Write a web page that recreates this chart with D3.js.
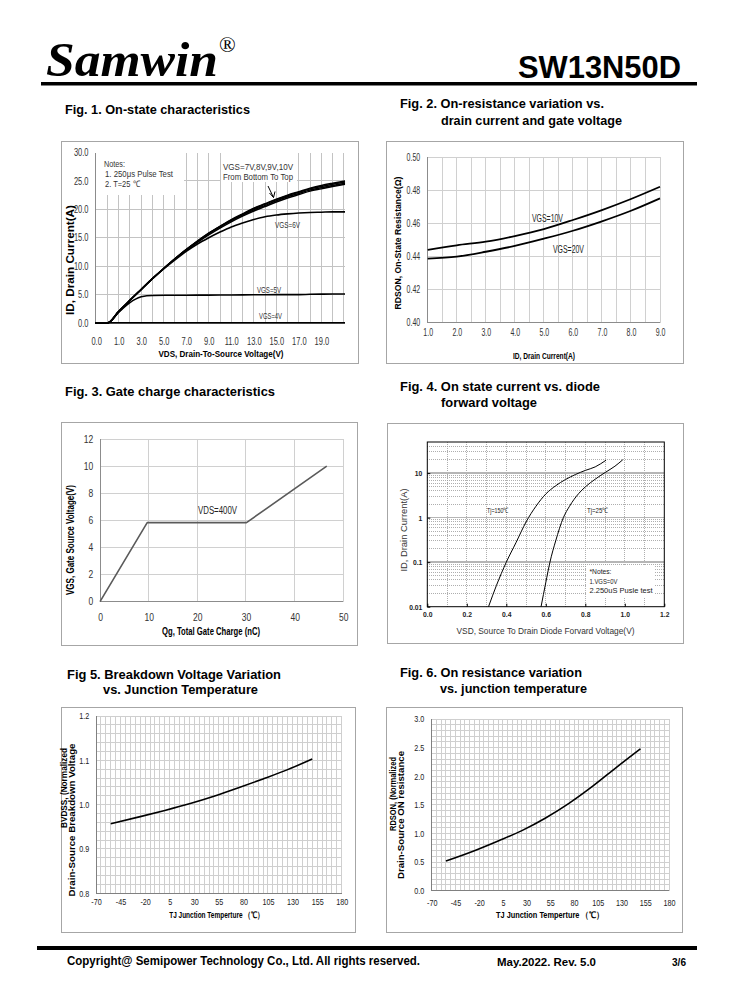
<!DOCTYPE html>
<html>
<head>
<meta charset="utf-8">
<script src="https://cdn.jsdelivr.net/npm/d3@7"></script>
<style>
body { margin: 0; background: #fff; }
svg { display: block; }
</style>
</head>
<body>
<svg id="page" width="738" height="1000"></svg>
<script>
var SANS = "'Liberation Sans', Arial, sans-serif";
var SERIF = "'Liberation Serif', 'Times New Roman', serif";

// Fig. 1 - on-state characteristics, VDS (V) vs ID (A)
var fig1Vds = [-1.1, 0, 1, 2, 3, 4, 5, 6, 7, 8, 9, 10, 11, 12, 13, 14, 15, 16, 17, 18, 19, 20, 21.1];
var fig1Id10 = [0, 0, 2.0, 4.0, 5.9, 7.8, 9.6, 11.3, 12.9, 14.4, 15.8, 17.0, 18.2, 19.2, 20.2, 21.0, 21.8, 22.5, 23.1, 23.7, 24.2, 24.6, 25.0];
var fig1Id9 = [0, 0, 2.0, 4.0, 5.9, 7.8, 9.6, 11.3, 12.9, 14.4, 15.8, 17.0, 18.1, 19.1, 20.1, 20.9, 21.7, 22.4, 23.0, 23.6, 24.0, 24.4, 24.8];
var fig1Id8 = [0, 0, 2.0, 4.0, 5.9, 7.8, 9.6, 11.3, 12.9, 14.3, 15.7, 16.9, 18.0, 19.0, 19.9, 20.7, 21.5, 22.2, 22.8, 23.4, 23.8, 24.2, 24.6];
var fig1Id7 = [0, 0, 2.0, 4.0, 5.9, 7.8, 9.6, 11.3, 12.8, 14.2, 15.5, 16.7, 17.8, 18.8, 19.7, 20.5, 21.3, 22.0, 22.6, 23.2, 23.6, 24.0, 24.4];
var fig1Id6 = [0, 0, 2.0, 4.0, 5.9, 7.8, 9.5, 11.1, 12.6, 13.9, 15.0, 16.0, 16.9, 17.6, 18.2, 18.7, 19.0, 19.2, 19.35, 19.45, 19.5, 19.55, 19.55];
var fig1Vds5 = [-1.1, 0, 1, 1.5, 2, 2.5, 3, 3.5, 4, 6, 8, 10, 12, 14, 16, 17, 18, 19, 20, 21.1];
var fig1Id5 = [0, 0, 1.9, 2.8, 3.6, 4.2, 4.6, 4.8, 4.85, 4.88, 4.9, 4.92, 4.95, 4.98, 5.0, 5.0, 5.05, 5.08, 5.1, 5.1];
var fig1Vds4 = [-1.1, 21.1];
var fig1Id4 = [0.05, 0.05];
var fig1XTicks = [-1, 1, 3, 5, 7, 9, 11, 13, 15, 17, 19];
var fig1XLabels = ["0.0", "1.0", "3.0", "5.0", "7.0", "9.0", "11.0", "13.0", "15.0", "17.0", "19.0"];
var fig1YTicks = [0, 5, 10, 15, 20, 25, 30];

// Fig. 2 - RDS(on) vs ID
var fig2Id = [1, 2, 3, 4, 5, 6, 7, 8, 9];
var fig2Rds10 = [0.4440, 0.4468, 0.4490, 0.4524, 0.4566, 0.4621, 0.4681, 0.4748, 0.4822];
var fig2Rds20 = [0.4388, 0.4400, 0.4429, 0.4464, 0.4508, 0.4556, 0.4613, 0.4677, 0.4752];
var fig2XTicks = [1, 2, 3, 4, 5, 6, 7, 8, 9];
var fig2YTicks = [0.40, 0.42, 0.44, 0.46, 0.48, 0.50];

// Fig. 3 - gate charge
var fig3Qg = [0, 9.7, 30.1, 46.6];
var fig3Vgs = [0, 5.83, 5.83, 10.0];
var fig3XTicks = [0, 10, 20, 30, 40, 50];
var fig3YTicks = [0, 2, 4, 6, 8, 10, 12];

// Fig. 4 - body diode forward voltage
var fig4Vsd150 = [0.31, 0.35, 0.40, 0.45, 0.50, 0.55, 0.60, 0.65, 0.70, 0.75, 0.80, 0.85, 0.905];
var fig4Id150 = [0.01, 0.03, 0.1, 0.28, 0.8, 1.8, 3.4, 5.2, 7.2, 9.3, 11.5, 13.8, 19.5];
var fig4Vsd25 = [0.576, 0.60, 0.621, 0.65, 0.689, 0.72, 0.767, 0.80, 0.85, 0.90, 0.95, 0.99];
var fig4Id25 = [0.01, 0.035, 0.1, 0.3, 1, 1.8, 3.5, 4.9, 7.3, 10.3, 14.3, 20];
var fig4XTicks = [0, 0.2, 0.4, 0.6, 0.8, 1.0, 1.2];
var fig4YTicks = [0.01, 0.1, 1, 10];
var fig4YLabels = ["0.01", "0.1", "1", "10"];

// Fig. 5 / Fig. 6 - normalized vs junction temperature
var tempTj = [-55, -25, 0, 25, 50, 75, 100, 125, 150];
var fig5Bv = [0.957, 0.973, 0.987, 1.002, 1.019, 1.038, 1.058, 1.079, 1.103];
var fig6Rds = [0.52, 0.70, 0.87, 1.05, 1.27, 1.53, 1.83, 2.16, 2.48];
var tempXTicks = [-70, -45, -20, 5, 30, 55, 80, 105, 130, 155, 180];
var fig5YTicks = [0.8, 0.9, 1.0, 1.1, 1.2];
var fig6YTicks = [0, 0.5, 1.0, 1.5, 2.0, 2.5, 3.0];

var svg = d3.select("#page");

function label(x, y, str, size, o) {
    o = o || {};
    var t = svg.append("text")
        .attr("x", x)
        .attr("y", y)
        .attr("font-size", size)
        .attr("font-family", o.font || SANS)
        .attr("font-weight", o.bold ? "bold" : "normal")
        .attr("font-style", o.italic ? "italic" : null)
        .attr("text-anchor", o.anchor || "start")
        .attr("fill", o.fill || "#000")
        .text(str);
    if (o.w) {
        t.attr("textLength", o.w).attr("lengthAdjust", "spacingAndGlyphs");
    }
    if (o.rotate) {
        t.attr("transform", "rotate(-90," + x + "," + y + ")");
    }
    return t;
}

// rotated axis title, (cx, cy) is the centre of the glyphs
function vTitle(cx, cy, str, size, o) {
    o = o || {};
    o.anchor = "middle";
    o.rotate = true;
    return label(cx + size * 0.36, cy, str, size, o);
}

function frame(b, color) {
    svg.append("rect")
        .attr("x", b[0] + 0.5)
        .attr("y", b[1] + 0.5)
        .attr("width", b[2] - b[0])
        .attr("height", b[3] - b[1])
        .attr("fill", "none")
        .attr("stroke", color || "#a6a6a6");
}

function grid(x, y, xs, ys, stroke, dash, sw) {
    var g = svg.append("g")
        .attr("stroke", stroke)
        .attr("stroke-width", sw || 1)
        .attr("stroke-dasharray", dash || null)
        .attr("shape-rendering", "crispEdges");
    var yr = y.range(), xr = x.range();
    g.selectAll(null).data(xs).enter().append("line")
        .attr("x1", function (d) { return x(d); })
        .attr("x2", function (d) { return x(d); })
        .attr("y1", yr[0])
        .attr("y2", yr[yr.length - 1]);
    g.selectAll(null).data(ys).enter().append("line")
        .attr("y1", function (d) { return y(d); })
        .attr("y2", function (d) { return y(d); })
        .attr("x1", xr[0])
        .attr("x2", xr[xr.length - 1]);
}

function axisLines(x, y, color) {
    var xr = x.range(), yr = y.range();
    svg.append("path")
        .attr("d", "M" + xr[0] + "," + yr[1] + "V" + yr[0] + "H" + xr[1])
        .attr("fill", "none")
        .attr("stroke", color || "#868686")
        .attr("shape-rendering", "crispEdges");
}

// squeeze text horizontally (no narrow face is installed)
function squeeze(sel, f) {
    sel.each(function () {
        var w = this.getComputedTextLength();
        d3.select(this).attr("textLength", w * f).attr("lengthAdjust", "spacingAndGlyphs");
    });
}

function styleAxis(g, size, o) {
    o = o || {};
    g.select(".domain").remove();
    g.selectAll("line").attr("stroke", o.tick || "none");
    var t = g.selectAll("text")
        .attr("font-size", size)
        .attr("font-family", SANS)
        .attr("font-weight", o.bold ? "bold" : "normal")
        .attr("fill", o.fill || "#333");
    if (o.sq) { squeeze(t, o.sq); }
}

function bottomAxis(x, y, ticks, fmt, pad, size, o) {
    var g = svg.append("g")
        .attr("transform", "translate(0," + y.range()[0] + ")")
        .call(d3.axisBottom(x).tickValues(ticks).tickFormat(fmt).tickSize(0).tickPadding(pad));
    styleAxis(g, size, o);
}

function leftAxis(x, y, ticks, fmt, pad, size, o) {
    var g = svg.append("g")
        .attr("transform", "translate(" + x.range()[0] + ",0)")
        .call(d3.axisLeft(y).tickValues(ticks).tickFormat(fmt).tickSize(0).tickPadding(pad));
    styleAxis(g, size, o);
}

function curve(x, y, xs, ys, stroke, sw, smooth) {
    var pts = xs.map(function (d, i) { return [d, ys[i]]; });
    svg.append("path")
        .datum(pts)
        .attr("fill", "none")
        .attr("stroke", stroke)
        .attr("stroke-width", sw)
        .attr("stroke-linejoin", "round")
        .attr("d", d3.line()
            .x(function (d) { return x(d[0]); })
            .y(function (d) { return y(d[1]); })
            .curve(smooth ? d3.curveMonotoneX : d3.curveLinear));
}

function whiteBox(x, y, w, h) {
    svg.append("rect").attr("x", x).attr("y", y).attr("width", w).attr("height", h).attr("fill", "#fff");
}

function plain(d) { return String(d); }

// ---------- page header / footer ----------
label(46, 76, "Samwin", 48, {font: SERIF, bold: true, italic: true, w: 172});
label(219, 52, "®", 22, {font: SERIF});
label(681, 78, "SW13N50D", 31, {bold: true, anchor: "end", w: 163});
svg.append("rect").attr("x", 41).attr("y", 82).attr("width", 656).attr("height", 3.5).attr("fill", "#000");

svg.append("rect").attr("x", 37).attr("y", 946).attr("width", 660).attr("height", 4).attr("fill", "#000");
label(67, 964.5, "Copyright@ Semipower Technology Co., Ltd. All rights reserved.", 12.5, {bold: true, w: 353});
label(497, 966, "May.2022. Rev. 5.0", 11, {bold: true, w: 99});
label(672, 966, "3/6", 11, {bold: true, w: 14});

// ---------- figure titles ----------
label(65, 113.5, "Fig. 1. On-state characteristics", 12.5, {bold: true, w: 185});
label(400, 108, "Fig. 2. On-resistance variation vs.", 12.5, {bold: true, w: 204});
label(441, 124.5, "drain current and gate voltage", 12.5, {bold: true, w: 181});
label(65, 395.5, "Fig. 3. Gate charge characteristics", 12.5, {bold: true, w: 210});
label(400, 390.5, "Fig. 4. On state current vs. diode", 12.5, {bold: true, w: 200});
label(441, 406.5, "forward voltage", 12.5, {bold: true, w: 96});
label(67, 678.5, "Fig 5. Breakdown Voltage Variation", 12.5, {bold: true, w: 214});
label(103, 693.5, "vs. Junction Temperature", 12.5, {bold: true, w: 155});
label(400, 676.5, "Fig. 6. On resistance variation", 12.5, {bold: true, w: 182});
label(440, 692.5, "vs. junction temperature", 12.5, {bold: true, w: 147});

// ---------- Fig. 1 ----------
(function () {
    var x = d3.scaleLinear().domain([-1.1, 21.1]).range([95, 345]);
    var y = d3.scaleLinear().domain([0, 30]).range([323, 152.5]);
    frame([61, 141, 358, 363]);
    grid(x, y, d3.range(0, 22), fig1YTicks.slice(1, 6), "#c3c3c3");
    whiteBox(96, 152, 88, 43);
    whiteBox(221, 152, 76, 30);
    axisLines(x, y, "#8c8c8c");
    bottomAxis(x, y, fig1XTicks, function (d, i) { return fig1XLabels[i]; }, 15, 10, {fill: "#333", sq: 0.75});
    leftAxis(x, y, fig1YTicks, function (d) { return d.toFixed(1); }, 6.5, 10, {fill: "#333", sq: 0.75});

    curve(x, y, fig1Vds4, fig1Id4, "#000", 1.6, false);
    curve(x, y, fig1Vds5, fig1Id5, "#000", 1.6, true);
    curve(x, y, fig1Vds, fig1Id6, "#000", 1.6, true);
    curve(x, y, fig1Vds, fig1Id7, "#000", 1.5, true);
    curve(x, y, fig1Vds, fig1Id8, "#000", 1.5, true);
    curve(x, y, fig1Vds, fig1Id9, "#000", 1.5, true);
    curve(x, y, fig1Vds, fig1Id10, "#000", 1.5, true);

    label(104, 167, "Notes:", 9, {fill: "#333", w: 21});
    label(105, 177, "1. 250\u03bcs  Pulse Test", 9, {fill: "#333", w: 68});
    label(105, 186.5, "2. T=25 \u2103", 9, {fill: "#333", w: 35});
    label(223, 170, "VGS=7V,8V,9V,10V", 9, {fill: "#333", w: 70});
    label(223, 180, "From Bottom To Top", 9, {fill: "#333", w: 70});
    label(275, 227.5, "VGS=6V", 9, {fill: "#333", w: 25});
    label(257, 293, "VGS=5V", 9, {fill: "#333", w: 24});
    label(259, 319, "VGS=4V", 9, {fill: "#333", w: 23});
    svg.append("path")
        .attr("d", "M268,186L273.5,197.5M269.5,193L273.5,197.5L275,191.5")
        .attr("fill", "none").attr("stroke", "#000").attr("stroke-width", 1);

    label(221, 356.5, "VDS,  Drain-To-Source Voltage(V)", 9.5, {bold: true, anchor: "middle", w: 125});
    vTitle(70, 260, "ID, Drain Current(A)", 10, {bold: true, w: 110});
})();

// ---------- Fig. 2 ----------
(function () {
    var x = d3.scaleLinear().domain([1, 9]).range([427.7, 660]);
    var y = d3.scaleLinear().domain([0.40, 0.50]).range([322.7, 157.3]);
    frame([386, 141, 683, 363]);
    grid(x, y, d3.range(3, 19).map(function (i) { return i / 2; }), fig2YTicks.slice(1), "#d0d0d0");
    axisLines(x, y, "#8c8c8c");
    bottomAxis(x, y, fig2XTicks, d3.format(".1f"), 6.5, 10, {fill: "#333", sq: 0.7});
    leftAxis(x, y, fig2YTicks, d3.format(".2f"), 7.5, 10, {fill: "#333", sq: 0.7});

    curve(x, y, fig2Id, fig2Rds10, "#000", 1.8, true);
    curve(x, y, fig2Id, fig2Rds20, "#000", 1.8, true);

    label(532, 222, "VGS=10V", 10, {fill: "#222", w: 31});
    label(553, 252.5, "VGS=20V", 10, {fill: "#222", w: 31});
    label(544, 358.5, "ID, Drain Current(A)", 9, {bold: true, anchor: "middle", w: 62});
    vTitle(398.3, 243, "RDSON, On-State Resistance(\u03a9)", 8.5, {bold: true, w: 133});
})();

// ---------- Fig. 3 ----------
(function () {
    var x = d3.scaleLinear().domain([0, 50]).range([100, 343.3]);
    var y = d3.scaleLinear().domain([0, 12]).range([601.7, 439]);
    frame([61, 422, 357, 645]);
    grid(x, y, fig3XTicks.slice(1), fig3YTicks.slice(1), "#d0d0d0");
    axisLines(x, y, "#8c8c8c");
    bottomAxis(x, y, fig3XTicks, plain, 12, 10, {fill: "#333", sq: 0.85});
    leftAxis(x, y, fig3YTicks, plain, 6.7, 10, {fill: "#333", sq: 0.85});

    curve(x, y, fig3Qg, fig3Vgs, "#5a5a5a", 1.6, false);

    label(198, 514, "VDS=400V", 10, {fill: "#222", w: 39});
    label(211, 635, "Qg, Total Gate Charge (nC)", 10, {bold: true, anchor: "middle", w: 98});
    vTitle(70, 540, "VGS,  Gate Source Voltage(V)", 10, {bold: true, w: 110});
})();

// ---------- Fig. 4 ----------
(function () {
    var x = d3.scaleLinear().domain([0, 1.2]).range([427.3, 664.3]);
    var y = d3.scaleLog().domain([0.01, 50]).range([606.7, 442]);
    var minor = [];
    frame([387, 423, 683, 643]);
    [0.01, 0.1, 1, 10].forEach(function (base) {
        d3.range(2, 10).forEach(function (k) {
            if (base * k < 50) { minor.push(base * k); }
        });
    });
    grid(x, y, d3.range(1, 12).map(function (i) { return i / 10; }), minor, "#9a9a9a", "1,1", 0.8);
    grid(x, y, [], [0.1, 1, 10], "#b5b5b5", null, 1.6);
    svg.append("rect")
        .attr("x", x(0)).attr("y", y(50))
        .attr("width", x(1.2) - x(0)).attr("height", y(0.01) - y(50))
        .attr("fill", "none").attr("stroke", "#000").attr("stroke-width", 1);
    // inward tick marks
    svg.append("g").attr("transform", "translate(0," + y(0.01) + ")")
        .call(d3.axisTop(x).tickValues(fig4XTicks).tickSize(3).tickFormat(""))
        .call(function (g) { g.select(".domain").remove(); });
    svg.append("g").attr("transform", "translate(" + x(0) + ",0)")
        .call(d3.axisRight(y).tickValues(fig4YTicks).tickSize(3).tickFormat(""))
        .call(function (g) { g.select(".domain").remove(); });
    bottomAxis(x, y, fig4XTicks, d3.format(".1f"), 4.7, 7.5, {bold: true, fill: "#222", sq: 0.9});
    leftAxis(x, y, fig4YTicks, function (d, i) { return fig4YLabels[i]; }, 5, 7.5, {bold: true, fill: "#222", sq: 0.9});

    curve(x, y, fig4Vsd150, fig4Id150, "#000", 1, true);
    curve(x, y, fig4Vsd25, fig4Id25, "#000", 1, true);

    label(487, 512.5, "Tj=150\u2103", 7.5, {fill: "#222", w: 21.5});
    label(587, 512.5, "Tj=25\u2103", 7.5, {fill: "#222", w: 21});
    whiteBox(587, 565, 68, 32);
    label(589.5, 574, "*Notes:", 7.5, {fill: "#222", w: 22});
    label(589.5, 583.5, "1.VGS=0V", 7.5, {fill: "#222", w: 28});
    label(589.5, 593, "2.250uS Pusle test", 7.5, {fill: "#222", w: 63});
    label(545.5, 633.5, "VSD, Source To Drain Diode Forvard Voltage(V)", 8.5, {fill: "#333", anchor: "middle", w: 178});
    vTitle(404.3, 530, "ID,  Drain Current(A)", 8.5, {fill: "#333", w: 83});
})();

// ---------- Fig. 5 ----------
(function () {
    var x = d3.scaleLinear().domain([-70, 180]).range([96, 341.7]);
    var y = d3.scaleLinear().domain([0.8, 1.2]).range([893.3, 716]);
    frame([61, 707, 355, 932]);
    grid(x, y, d3.range(-65, 181, 5), d3.range(41, 61).map(function (i) { return i / 50; }), "#cfcfcf");
    axisLines(x, y, "#808080");
    bottomAxis(x, y, tempXTicks, plain, 5.2, 9, {fill: "#222", sq: 0.8});
    leftAxis(x, y, fig5YTicks, d3.format(".1f"), 6.7, 9, {fill: "#222", sq: 0.8});

    curve(x, y, tempTj, fig5Bv, "#000", 1.6, true);

    label(216.7, 918, "TJ  Junction Temperture \uff08\u2103\uff09", 8.5, {bold: true, anchor: "middle", w: 95});
    vTitle(64, 788, "BVDSS, (Normalized", 8.5, {bold: true, w: 80});
    vTitle(71.7, 820, "Drain-Source Breakdown Voltage", 8.5, {bold: true, w: 153});
})();

// ---------- Fig. 6 ----------
(function () {
    var x = d3.scaleLinear().domain([-70, 180]).range([431.7, 669]);
    var y = d3.scaleLinear().domain([0, 3]).range([890.7, 719]);
    frame([386, 707, 682, 932]);
    grid(x, y, d3.range(-65, 181, 5), d3.range(1, 31).map(function (i) { return i / 10; }), "#cfcfcf");
    axisLines(x, y, "#808080");
    bottomAxis(x, y, tempXTicks, plain, 9, 9, {fill: "#222", sq: 0.8});
    leftAxis(x, y, fig6YTicks, d3.format(".1f"), 7.4, 9, {fill: "#222", sq: 0.8});

    curve(x, y, tempTj, fig6Rds, "#000", 1.6, true);

    label(550, 918, "TJ  Junction Temperture \uff08\u2103\uff09", 8.5, {bold: true, anchor: "middle", w: 108});
    vTitle(393.3, 794, "RDSON, (Normalized", 8.5, {bold: true, w: 74});
    vTitle(400.7, 815, "Drain-Source ON resistance", 8.5, {bold: true, w: 128});
})();
</script>
</body>
</html>
